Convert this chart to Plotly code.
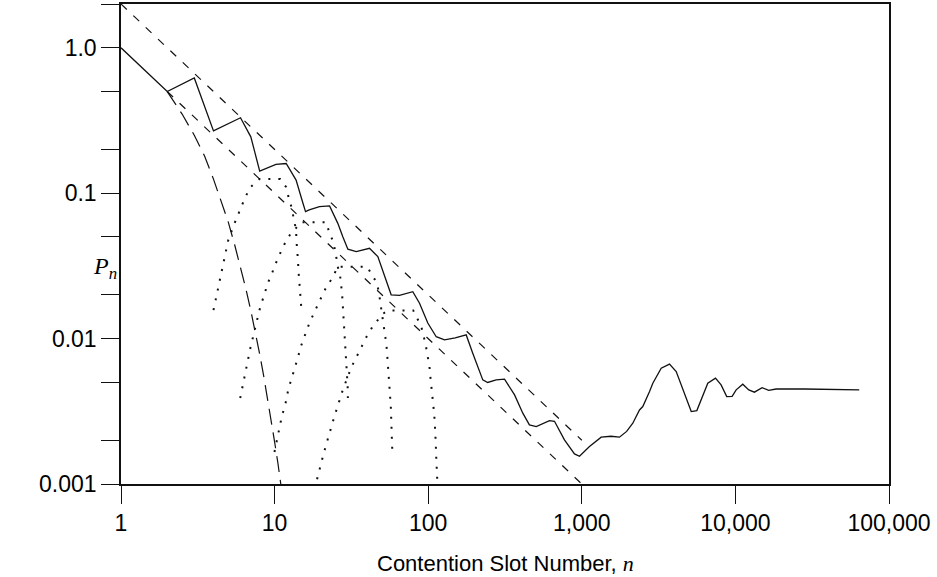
import math
import plotly.graph_objects as go

# ---------------- data ----------------
# main solid curve
main_n = [1, 2, 3, 4, 6, 7.0, 8, 10.2, 11.9, 13.8, 15.3, 15.9, 16.8, 19.6, 22.8,
          25.8, 27.8, 30, 34, 41.5, 47, 52, 57.4, 65, 79.4, 87.8, 99.4, 112.8,
          127.7, 150, 176.8, 195, 226.6, 244, 277, 314, 365, 413, 456, 505, 616,
          664, 771, 896, 966, 1122, 1337, 1550, 1759, 1959, 2148, 2375, 2495,
          2761, 2900, 3288, 3724, 4117, 4550, 5158, 5610, 6610, 7420, 8070, 8780,
          9520, 10115, 11170, 12220, 13300, 14920, 16480, 18400, 28200, 64000]
main_p = [1.0, 0.5, 0.62, 0.268, 0.33, 0.244, 0.142, 0.158, 0.160, 0.123, 0.0853,
          0.0746, 0.0768, 0.0807, 0.0818, 0.0620, 0.0502, 0.0412, 0.0396, 0.0418,
          0.0366, 0.0267, 0.0200, 0.0198, 0.0210, 0.0175, 0.0128, 0.0103, 0.0098,
          0.0101, 0.0106, 0.00794, 0.0052, 0.00499, 0.0052, 0.00526, 0.0041,
          0.00307, 0.00255, 0.00248, 0.00273, 0.0027, 0.00201, 0.00161, 0.00155,
          0.00181, 0.0021, 0.00213, 0.0021, 0.0023, 0.00262, 0.00323, 0.00341,
          0.00432, 0.00493, 0.00626, 0.00667, 0.00593, 0.00444, 0.00315, 0.0032,
          0.00493, 0.00535, 0.0048, 0.00399, 0.0040, 0.00444, 0.00486, 0.00444,
          0.00428, 0.0046, 0.0044, 0.0045, 0.0045, 0.00444]

# upper and lower dashed bounds
upper_n = [1, 1000]
upper_p = [2.0, 0.002]
lower_n = [2, 1000]
lower_p = [0.5, 0.001]

# long-dashed curve
steep_n = [2, 2.5, 3, 3.5, 4, 4.5, 5, 5.5, 6, 6.5, 7, 7.5, 8, 8.5, 9, 9.5, 10, 10.5, 11]
steep_p = [0.50, 0.35, 0.25, 0.18, 0.125, 0.088, 0.063, 0.044, 0.031, 0.022, 0.0156,
           0.011, 0.0078, 0.0055, 0.0039, 0.0028, 0.00195, 0.0014, 0.00098]

# dotted arches
arch1_n = [4.0, 4.27, 4.53, 4.84, 4.99, 5.43, 5.96, 6.43, 6.96, 7.97, 10.9, 11.9,
           12.36, 13.0, 13.33, 13.8, 13.87, 14.08, 14.2, 14.3, 14.5, 14.7, 14.9, 14.96]
arch1_p = [0.0157, 0.0216, 0.0292, 0.0403, 0.0474, 0.0605, 0.0776, 0.0933, 0.110,
           0.125, 0.125, 0.110, 0.0928, 0.0775, 0.0662, 0.0560, 0.0474, 0.0404,
           0.0343, 0.0293, 0.025, 0.0213, 0.0182, 0.0157]

arch2_n = [5.97, 6.15, 6.34, 6.56, 6.76, 6.97, 7.21, 7.7, 7.97, 8.28, 8.66, 8.92, 9.5,
           9.96, 10.5, 11.0, 11.9, 13.0, 13.8, 14.9, 21.7, 22.6, 23.9, 24.9, 25.7,
           26.7, 27.5, 28.0, 28.7, 29.0, 29.3, 29.5, 29.9, 30.0]
arch2_p = [0.0039, 0.0046, 0.0054, 0.0064, 0.0075, 0.0087, 0.0101, 0.0137, 0.0157,
           0.018, 0.0206, 0.0235, 0.027, 0.0312, 0.0357, 0.0397, 0.0472, 0.0545,
           0.0576, 0.0632, 0.0632, 0.0545, 0.0472, 0.0397, 0.0316, 0.0269, 0.0204,
           0.015, 0.0104, 0.0088, 0.0065, 0.0055, 0.0047, 0.0039]

arch3_n = [9.98, 10.25, 10.6, 10.9, 11.2, 11.67, 11.96, 12.3, 12.93, 13.46, 13.9, 14.4,
           14.9, 15.9, 16.85, 17.9, 18.9, 19.8, 20.8, 21.8, 23.0, 23.95, 25.7, 40.0,
           45.8, 46.9, 48.0, 49.0, 50.1, 51.0, 52.6, 53.4, 54.0, 54.5, 55.3, 55.8,
           56.3, 56.6, 57.1, 57.3, 57.6, 57.9, 58.1, 58.4]
arch3_p = [0.00166, 0.00193, 0.00224, 0.00262, 0.00299, 0.00341, 0.00385, 0.00451,
           0.00534, 0.0061, 0.00703, 0.00785, 0.00896, 0.0108, 0.0128, 0.0147, 0.0168,
           0.0188, 0.0207, 0.0228, 0.0246, 0.0264, 0.0312, 0.0312, 0.0246, 0.0228,
           0.020, 0.0171, 0.015, 0.0128, 0.0108, 0.00915, 0.00794, 0.00703, 0.0061,
           0.00534, 0.00451, 0.00389, 0.00339, 0.00299, 0.00263, 0.00224, 0.0019,
           0.00166]

arch4_n = [18.9, 19.8, 20.9, 21.9, 22.9, 23.9, 24.9, 25.9, 26.8, 27.8, 31.6, 33.8, 35.8,
           37.9, 40.6, 43.7, 46.9, 50.6, 55, 80, 85.0, 89.9, 95.9, 97.9, 100, 101.9,
           103.5, 105.6, 107.1, 108.2, 109.3, 110.2, 111.3, 111.9, 112.5, 113.4, 114.5]
arch4_p = [0.00108, 0.00133, 0.00163, 0.00194, 0.00232, 0.00266, 0.00307, 0.0035,
           0.00395, 0.00444, 0.00635, 0.00733, 0.00836, 0.00929, 0.0108, 0.0122,
           0.0135, 0.0148, 0.0156, 0.0156, 0.0137, 0.0122, 0.00929, 0.00836, 0.00733,
           0.00642, 0.00534, 0.00444, 0.00395, 0.0035, 0.00307, 0.0027, 0.00232,
           0.00195, 0.00163, 0.00135, 0.00108]

# ticks
x_tick_vals = [1, 10, 100, 1000, 10000, 100000]
x_tick_text = ["1", "10", "100", "1,000", "10,000", "100,000"]
y_tick_vals = [0.001, 0.002, 0.005, 0.01, 0.02, 0.05, 0.1, 0.2, 0.5, 1, 2]
y_tick_text = ["0.001", "", "", "0.01", "", "", "0.1", "", "", "1.0", ""]

# ---------------- figure ----------------
ink = "#111111"
fig = go.Figure()

def add(xs, ys, width, dash):
    fig.add_trace(go.Scatter(x=xs, y=ys, mode="lines",
                             line=dict(color=ink, width=width, dash=dash),
                             hoverinfo="skip", showlegend=False))

add(upper_n, upper_p, 1.2, "8px,9px")
add(lower_n, lower_p, 1.2, "8px,9px")
add(steep_n, steep_p, 1.2, "16px,8px")
for an, ap in [(arch1_n, arch1_p), (arch2_n, arch2_p), (arch3_n, arch3_p), (arch4_n, arch4_p)]:
    add(an, ap, 2, "2px,8px")
add(main_n, main_p, 1.3, "solid")

tickfont = dict(family="Liberation Sans, Arial, sans-serif", size=23, color="black")

fig.update_xaxes(type="log", range=[0, 5], tickmode="array",
                 tickvals=x_tick_vals, ticktext=x_tick_text,
                 ticks="outside", ticklen=18, tickwidth=1.3, tickcolor=ink,
                 showline=True, linecolor=ink, linewidth=1.5, mirror=True,
                 showgrid=False, zeroline=False, tickfont=tickfont,
                 automargin=False)
fig.update_yaxes(type="log", range=[-3, math.log10(2)], tickmode="array",
                 tickvals=y_tick_vals, ticktext=y_tick_text,
                 ticks="outside", ticklen=18, tickwidth=1.3, tickcolor=ink,
                 showline=True, linecolor=ink, linewidth=1.5, mirror=True,
                 showgrid=False, zeroline=False, tickfont=tickfont,
                 automargin=False)

fig.update_layout(width=937, height=577,
                  margin=dict(l=121, r=48, t=4, b=93, autoexpand=False),
                  plot_bgcolor="white", paper_bgcolor="white",
                  showlegend=False)

fig.add_annotation(text="Contention Slot Number, <span style=\"font-family:'Liberation Serif'\"><i>n</i></span>",
                   xref="paper", yref="paper", x=0.5, y=-0.165,
                   xanchor="center", yanchor="middle", showarrow=False,
                   font=dict(family="Liberation Sans, Arial, sans-serif", size=22, color="black"))
fig.add_annotation(text="<i>P</i><sub><i>n</i></sub>",
                   xref="paper", yref="paper", x=-0.0205, y=0.45,
                   xanchor="center", yanchor="middle", showarrow=False,
                   font=dict(family="Liberation Serif, Times New Roman, serif", size=24, color="black"))

fig.write_html("out.html", config={"displayModeBar": False},
               post_script="document.body.style.margin='0';document.body.style.padding='0';document.body.style.overflow='hidden';")
